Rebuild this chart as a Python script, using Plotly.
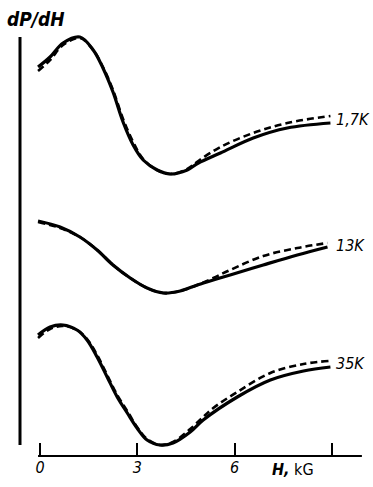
import plotly.graph_objects as go

# Field H (kG) and dP/dH (arbitrary units, curves vertically offset)
h_17_solid = [-0.06, 0.31, 0.71, 1.23, 1.64, 1.94, 2.25, 2.56, 2.87, 3.18, 3.61, 4.01, 4.54, 4.88, 5.56, 6.57, 7.62, 8.95]
y_17_solid = [38.9, 39.9, 41.3, 41.9, 40.6, 38.8, 36.4, 33.4, 31.1, 29.6, 28.6, 28.2, 28.6, 29.3, 30.3, 31.8, 32.8, 33.3]
h_17_dash = [-0.06, 0.31, 0.71, 1.23, 1.64, 1.94, 2.25, 2.56, 2.87, 3.18, 3.61, 4.01, 4.54, 4.88, 5.56, 6.57, 7.62, 8.95]
y_17_dash = [38.5, 39.6, 41.1, 41.8, 40.6, 38.9, 36.6, 33.7, 31.4, 29.7, 28.6, 28.2, 28.7, 29.5, 30.9, 32.3, 33.3, 34.0]

h_13_solid = [-0.06, 0.62, 1.23, 1.76, 2.25, 2.78, 3.30, 3.80, 4.32, 4.85, 5.34, 5.86, 6.88, 7.93, 8.86]
y_13_solid = [23.5, 22.9, 21.9, 20.6, 19.1, 17.8, 16.8, 16.3, 16.5, 17.1, 17.6, 18.1, 19.1, 20.1, 20.9]
h_13_dash = [-0.06, 0.62, 1.23, 1.76, 2.25, 2.78, 3.30, 3.80, 4.32, 4.85, 5.34, 5.86, 6.88, 7.93, 8.86]
y_13_dash = [23.4, 22.8, 21.9, 20.6, 19.1, 17.8, 16.8, 16.3, 16.5, 17.1, 17.8, 18.6, 20.0, 20.8, 21.3]

h_35_solid = [-0.06, 0.31, 0.71, 1.14, 1.45, 1.76, 2.07, 2.38, 2.69, 2.99, 3.30, 3.70, 4.10, 4.63, 5.03, 6.08, 7.10, 8.12, 8.95]
y_35_solid = [12.1, 12.9, 13.1, 12.6, 11.6, 9.9, 7.9, 5.9, 4.3, 2.8, 1.6, 1.1, 1.3, 2.4, 3.6, 5.9, 7.6, 8.5, 8.9]
h_35_dash = [-0.06, 0.31, 0.71, 1.14, 1.45, 1.76, 2.07, 2.38, 2.69, 2.99, 3.30, 3.70, 4.10, 4.63, 5.03, 5.34, 6.08, 7.10, 8.12, 8.89]
y_35_dash = [11.8, 12.7, 13.0, 12.6, 11.7, 10.1, 8.1, 6.1, 4.5, 2.9, 1.7, 1.1, 1.4, 2.7, 3.9, 4.8, 6.4, 8.3, 9.2, 9.5]

labels = ["1,7K", "13K", "35K"]
label_y = [33.7, 21.1, 9.3]

tick_vals = [0, 3, 6, 9]
tick_text = ["0", "3", "6", ""]

series = [
    (h_17_solid, y_17_solid, "solid"),
    (h_17_dash, y_17_dash, "dash"),
    (h_13_solid, y_13_solid, "solid"),
    (h_13_dash, y_13_dash, "dash"),
    (h_35_solid, y_35_solid, "solid"),
    (h_35_dash, y_35_dash, "dash"),
]

fig = go.Figure()
for hx, yy, st in series:
    fig.add_trace(go.Scatter(
        x=hx, y=yy, mode="lines", line_shape="spline",
        line=dict(color="black", width=3.2 if st == "solid" else 2.6,
                  dash="solid" if st == "solid" else "7px,4px"),
        showlegend=False, hoverinfo="skip"))

font_fam = "DejaVu Sans Condensed, DejaVu Sans, sans-serif"

for lab, ly in zip(labels, label_y):
    fig.add_annotation(x=9.0, y=ly, xref="x", yref="y", text=lab, showarrow=False,
                       xanchor="left", yanchor="middle", xshift=2,
                       font=dict(family=font_fam, size=16, color="black", style="italic"))

fig.add_annotation(x=-0.045, y=1.025, xref="paper", yref="paper", text="dP/dH", showarrow=False,
                   xanchor="left", yanchor="middle",
                   font=dict(family=font_fam, size=19, color="black", style="italic", weight="bold"))

fig.add_annotation(x=7.1, y=0, xref="x", yref="paper", text="<b><i>H,</i></b> kG", showarrow=False,
                   xanchor="left", yanchor="top", yshift=-2,
                   font=dict(family=font_fam, size=16, color="black"))

# axis lines
fig.add_shape(type="line", xref="x", yref="paper", x0=-0.06, x1=9.92, y0=0, y1=0,
              line=dict(color="black", width=2.2))
fig.add_shape(type="line", xref="paper", yref="y", x0=0, x1=0, y0=1.1, y1=41.9,
              line=dict(color="black", width=3))

fig.update_xaxes(range=[-0.616, 9.923], showgrid=False, zeroline=False, showline=False,
                 tickvals=tick_vals, ticktext=tick_text, ticks="inside", ticklen=13,
                 tickwidth=2, tickcolor="black",
                 tickfont=dict(family=font_fam, size=16, color="black", style="italic"))
fig.update_yaxes(range=[0, 42.6], showgrid=False, zeroline=False, showline=False,
                 showticklabels=False, ticks="")

fig.update_layout(width=373, height=487, margin=dict(l=20, r=11, t=30, b=31),
                  plot_bgcolor="white", paper_bgcolor="white")

fig.write_html("out.html", config={"displayModeBar": False},
               post_script="document.body.style.margin='0';document.body.style.overflow='hidden';")
